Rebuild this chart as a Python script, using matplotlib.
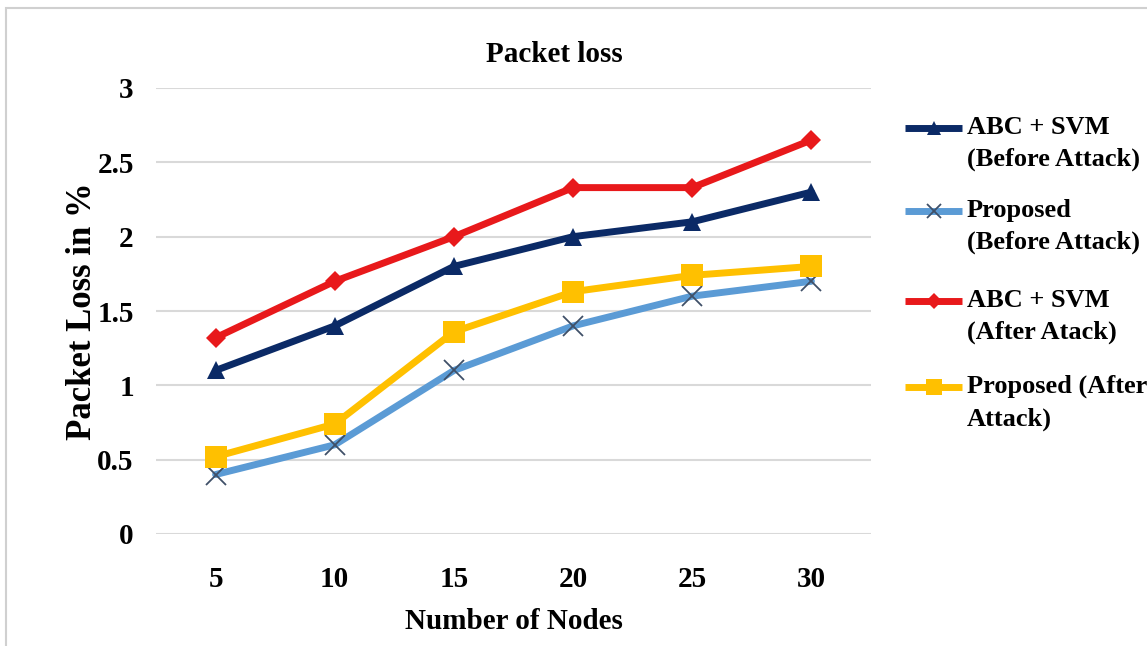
import matplotlib
matplotlib.use("Agg")
import matplotlib.pyplot as plt
from matplotlib.lines import Line2D
from matplotlib.patches import Rectangle

# ---------------------------------- #
# Packet loss against network size   #
# ---------------------------------- #
nodes = ["5", "10", "15", "20", "25", "30"]
abc_svm_before = [1.1, 1.4, 1.8, 2.0, 2.1, 2.3]
proposed_before = [0.4, 0.6, 1.1, 1.4, 1.6, 1.7]
abc_svm_after = [1.32, 1.70, 2.0, 2.33, 2.33, 2.65]
proposed_after = [0.52, 0.74, 1.36, 1.63, 1.74, 1.80]

labels = ["ABC + SVM\n(Before Attack)", "Proposed\n(Before Attack)",
          "ABC + SVM\n(After Atack)", "Proposed (After\nAttack)"]
yticks = [0, 0.5, 1, 1.5, 2, 2.5, 3]

# style per series: colour, marker, marker size, marker colour, marker edge width
styles = [
    ("#0B2A66", "^", 13, "#0B2A66", 0),
    ("#5B9BD5", "x", 14, "#3F5068", 1.3),
    ("#E8191B", "D", 10.5, "#E8191B", 0),
    ("#FFC000", "s", 16, "#FFC000", 0),
]
series = [abc_svm_before, proposed_before, abc_svm_after, proposed_after]

W, H = 1147, 646
plt.rcParams["font.family"] = ["Liberation Serif", "DejaVu Serif"]
plt.rcParams["font.weight"] = "bold"

fig = plt.figure(figsize=(W / 100, H / 100), dpi=100)
ax = fig.add_axes([156 / W, 1 - 534 / H, (871 - 156) / W, (534 - 88) / H])

x = list(range(len(nodes)))
for vals, (col, mk, ms, mcol, mew) in zip(series, styles):
    ax.plot(x, vals, color=col, lw=5, marker=mk, markersize=ms,
            markerfacecolor=mcol, markeredgecolor=mcol, markeredgewidth=mew,
            solid_capstyle="round", zorder=3)

ax.set_xlim(-0.5, len(nodes) - 0.5)
ax.set_ylim(0, 3)
ax.set_xticks(x)
ax.set_xticklabels(nodes)
ax.set_yticks(yticks)
ax.set_yticklabels([f"{v:g}" for v in yticks])
ax.grid(axis="y", color="#D9D9D9", lw=1.5)
ax.set_axisbelow(True)
for s in ax.spines.values():
    s.set_visible(False)
ax.tick_params(length=0, labelsize=21)
ax.tick_params(axis="x", pad=23)
ax.tick_params(axis="y", pad=16)

fig.text(554 / W, 1 - 55 / H, "Packet loss", fontsize=21, fontweight="bold",
         ha="center", va="center")
ax.set_xlabel("Number of Nodes", fontsize=21, fontweight="bold", labelpad=11)
ax.set_ylabel("Packet Loss in %", fontsize=25, fontweight="bold", labelpad=-1)

# legend drawn by hand so the key sits on the first text line
key_y = [128, 211, 301, 387]
for lab, yk, (col, mk, ms, mcol, mew) in zip(labels, key_y, styles):
    yf = 1 - yk / H
    fig.add_artist(Line2D([905 / W, 962 / W], [yf, yf], color=col, lw=5,
                          solid_capstyle="butt"))
    fig.add_artist(Line2D([933.5 / W], [yf], marker=mk, markersize=ms * 0.75,
                          markerfacecolor=mcol, markeredgecolor=mcol,
                          markeredgewidth=mew, lw=0))
    fig.text(967 / W, 1 - (yk - 12) / H, lab, fontsize=19, fontweight="bold",
             va="top", ha="left", linespacing=1.5)

# light outer frame
fig.add_artist(Rectangle((6 / W, -0.1), 1.2, 1 - 8 / H + 0.1,
                         transform=fig.transFigure, fill=False,
                         edgecolor="#D0D0D0", lw=1.5))

fig.savefig("out.png", dpi=100)
